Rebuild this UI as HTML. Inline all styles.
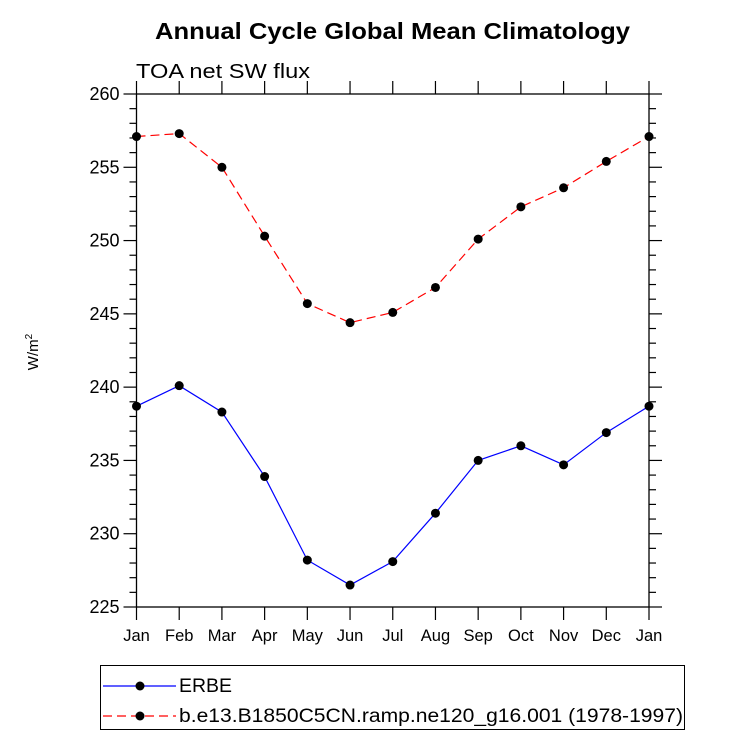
<!DOCTYPE html>
<html><head><meta charset="utf-8"><style>
body{margin:0;background:#fff;}
svg{display:block;font-family:"Liberation Sans",Arial,sans-serif;}
</style></head><body>
<svg id="chart" width="733" height="741">
<text x="155" y="39" font-size="23" font-weight="bold" textLength="475" lengthAdjust="spacingAndGlyphs">Annual Cycle Global Mean Climatology</text>
<text x="136" y="78" font-size="20" textLength="174" lengthAdjust="spacingAndGlyphs">TOA net SW flux</text>
<text transform="translate(38,352) rotate(-90)" text-anchor="middle" font-size="15">W/m<tspan dy="-6" font-size="10">2</tspan></text>
<g id="axes"></g>
<g id="series"></g>
<g>
<rect x="100.5" y="665.5" width="584" height="64" fill="none" stroke="#000" stroke-width="1"/>
<g>
<line x1="103" y1="686" x2="176" y2="686" stroke="#0000ff" stroke-width="1.2"/>
<circle cx="140" cy="686" r="4.5" fill="#000"/>
<text x="179" y="692" font-size="19" textLength="53" lengthAdjust="spacingAndGlyphs">ERBE</text></g>
<g>
<line x1="103" y1="716" x2="176" y2="716" stroke="#ff0000" stroke-width="1.2" stroke-dasharray="9,5"/>
<circle cx="140" cy="716" r="4.5" fill="#000"/>
<text x="179" y="722" font-size="19" textLength="504" lengthAdjust="spacingAndGlyphs">b.e13.B1850C5CN.ramp.ne120_g16.001 (1978-1997)</text></g>
</g>
</svg>
<script>
const months=["Jan","Feb","Mar","Apr","May","Jun","Jul","Aug","Sep","Oct","Nov","Dec","Jan"];
const erbe=[238.7,240.1,238.3,233.9,228.2,226.5,228.1,231.4,235.0,236.0,234.7,236.9,238.7];
const model=[257.1,257.3,255.0,250.3,245.7,244.4,245.1,246.8,250.1,252.3,253.6,255.4,257.1];
const yTicks=[225,230,235,240,245,250,255,260];
const NS="http://www.w3.org/2000/svg";
const X0=136.5,X1=649,Y0=607,Y1=94,YMIN=225,YMAX=260;
function xs(i){return X0+(X1-X0)*i/(months.length-1);}
function ys(v){return Y0-(v-YMIN)/(YMAX-YMIN)*(Y0-Y1);}
function mk(t,a,p){const e=document.createElementNS(NS,t);for(const k in a)e.setAttribute(k,a[k]);p.appendChild(e);return e;}
const ax=document.getElementById('axes');
const fr=mk('rect',{x:X0,y:Y1,width:X1-X0,height:Y0-Y1,fill:'none',stroke:'#000','stroke-width':1.3},ax);


function ln(x1,y1,x2,y2){return mk('line',{x1,y1,x2,y2,stroke:'#000','stroke-width':1.2},ax);}
months.forEach((m,i)=>{const x=xs(i);ln(x,Y0,x,Y0+13);ln(x,Y1,x,Y1-13);
const t=mk('text',{x:x,y:Y0+34,'text-anchor':'middle','font-size':16.5},ax);t.textContent=m;

});
yTicks.forEach(v=>{const y=ys(v);ln(X0,y,X0-13,y);ln(X1,y,X1+13,y);
const t=mk('text',{x:X0-17,y:y+6,'text-anchor':'end','font-size':18},ax);t.textContent=v;

});
for(let v=YMIN;v<YMAX;v+=1){if(v%5===0)continue;const y=ys(v);ln(X0,y,X0-7,y);ln(X1,y,X1+7,y);}
const sg=document.getElementById('series');
function series(d,col,dash,name){const g=mk('g',{},sg);


const a={points:d.map((v,i)=>xs(i)+','+ys(v)).join(' '),fill:'none',stroke:col,'stroke-width':1.2};if(dash)a['stroke-dasharray']=dash;
mk('polyline',a,g);
d.forEach((v,i)=>{const c=mk('circle',{cx:xs(i),cy:ys(v),r:4.5,fill:'#000'},g);

});}
series(model,'#ff0000','9,5','model-series');
series(erbe,'#0000ff',null,'erbe-series');
</script>
</body></html>
